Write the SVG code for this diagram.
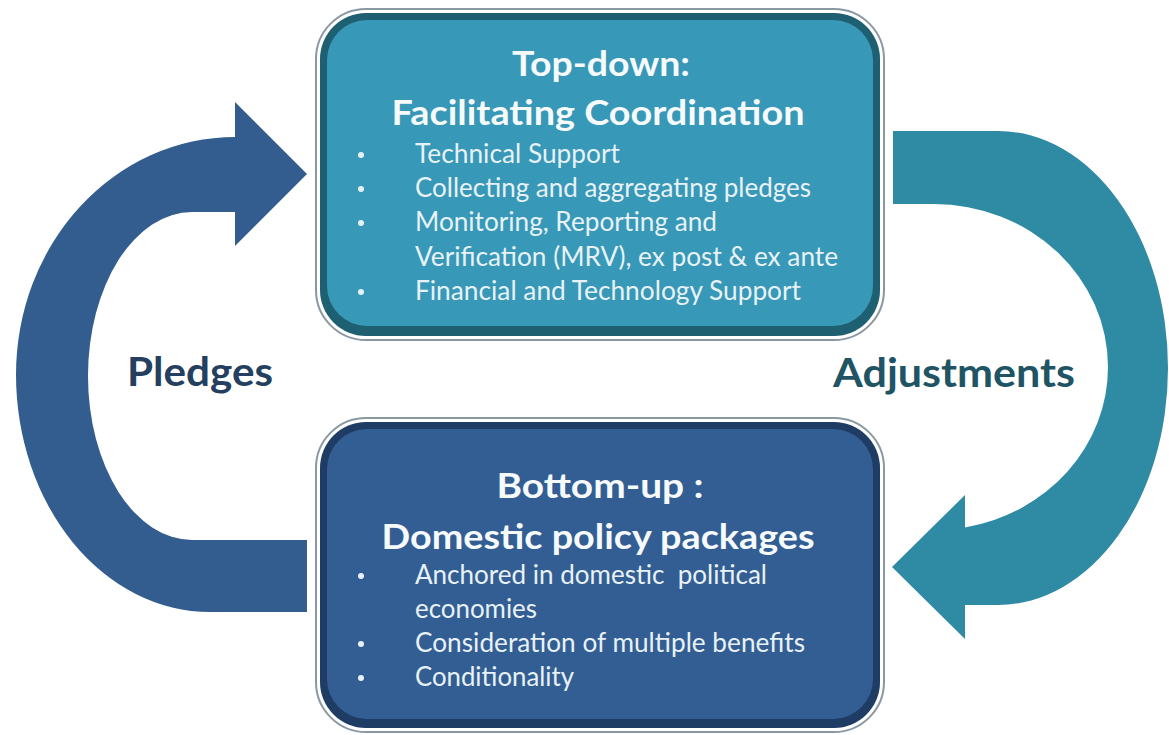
<svg xmlns="http://www.w3.org/2000/svg" width="1169" height="735" viewBox="0 0 1169 735">
  <style>
    .frame { fill: #ffffff; stroke: #8a98a2; stroke-width: 2; }
    .title { font-family: Lato, "Liberation Sans", sans-serif; font-weight: bold; font-size: 35px; fill: #f6fafb; text-anchor: middle; }
    .item { font-family: Lato, "Liberation Sans", sans-serif; font-size: 26px; fill: #e8f2f6; white-space: pre; }
    .dot { fill: #e8f2f6; }
    .label { font-family: Lato, "Liberation Sans", sans-serif; font-weight: bold; font-size: 40px; }
  </style>

  <!-- curved arrows and their labels -->
  <g id="connectors">
    <g id="pledges-arrow">
      <path fill="#345d8f" d="M 307 612 L 210 612 A 194 237.5 0 0 1 16 374.5 A 219 237.5 0 0 1 235 137 L 235 102 L 307 174 L 235 246 L 235 212 L 192 212 A 104 164 0 0 0 88 376 A 104 164 0 0 0 192 540 L 307 540 Z"/>
      <text class="label" x="127" y="386" fill="#253f60" textLength="146" lengthAdjust="spacingAndGlyphs">Pledges</text>
    </g>
    <g id="adjustments-arrow">
      <path fill="#2f8aa4" d="M 893 131 L 998 131 A 170 237 0 0 1 1168 368 A 170 237 0 0 1 998 605 L 965 605 L 965 639 L 892 567 L 965 495 L 965 527.4 A 174 163 0 0 0 1108 367 A 174 163 0 0 0 934 204 L 893 204 Z"/>
      <text class="label" x="833" y="387" fill="#1f5465" textLength="242" lengthAdjust="spacingAndGlyphs">Adjustments</text>
    </g>
  </g>

  <!-- top box -->
  <g id="top-down">
    <rect class="frame" x="316" y="9" width="568" height="331" rx="50"/>
    <rect x="320" y="13" width="560" height="323" rx="46" fill="#1e5f71"/>
    <rect x="327" y="20" width="546" height="306" rx="40" fill="#3798b7"/>
    <text class="title" x="601" y="76" textLength="178" lengthAdjust="spacingAndGlyphs">Top-down:</text>
    <text class="title" x="598" y="125" textLength="413" lengthAdjust="spacingAndGlyphs">Facilitating Coordination</text>
    <circle class="dot" cx="361" cy="155" r="3"/>
    <circle class="dot" cx="361" cy="189" r="3"/>
    <circle class="dot" cx="361" cy="223" r="3"/>
    <circle class="dot" cx="361" cy="292" r="3"/>
    <text class="item" x="415" y="163" textLength="205" lengthAdjust="spacingAndGlyphs">Technical Support</text>
    <text class="item" x="415" y="197" textLength="396" lengthAdjust="spacingAndGlyphs">Collecting and aggregating pledges</text>
    <text class="item" x="415" y="231" textLength="302" lengthAdjust="spacingAndGlyphs">Monitoring, Reporting and</text>
    <text class="item" x="415" y="266" textLength="423" lengthAdjust="spacingAndGlyphs">Verification (MRV), ex post &amp; ex ante</text>
    <text class="item" x="415" y="300" textLength="386" lengthAdjust="spacingAndGlyphs">Financial and Technology Support</text>
  </g>

  <!-- bottom box -->
  <g id="bottom-up">
    <rect class="frame" x="316" y="418" width="568" height="314" rx="50"/>
    <rect x="320" y="422" width="560" height="306" rx="46" fill="#1f3c64"/>
    <rect x="327" y="429" width="546" height="290" rx="40" fill="#335e93"/>
    <text class="title" x="600" y="498" textLength="207" lengthAdjust="spacingAndGlyphs">Bottom-up :</text>
    <text class="title" x="598" y="549" textLength="433" lengthAdjust="spacingAndGlyphs">Domestic policy packages</text>
    <circle class="dot" cx="361" cy="576" r="3"/>
    <circle class="dot" cx="361" cy="644" r="3"/>
    <circle class="dot" cx="361" cy="678" r="3"/>
    <text class="item" x="415" y="584" textLength="352" lengthAdjust="spacingAndGlyphs">Anchored in domestic  political</text>
    <text class="item" x="415" y="618" textLength="122" lengthAdjust="spacingAndGlyphs">economies</text>
    <text class="item" x="415" y="652" textLength="390" lengthAdjust="spacingAndGlyphs">Consideration of multiple benefits</text>
    <text class="item" x="415" y="686" textLength="159" lengthAdjust="spacingAndGlyphs">Conditionality</text>
  </g>
</svg>
